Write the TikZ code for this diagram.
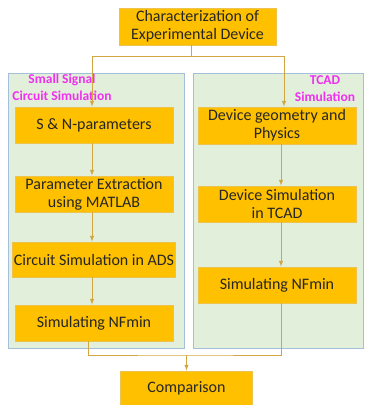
\documentclass[tikz,border=0pt]{standalone}
\usepackage{fontspec}
\setmainfont{Carlito}
\usepackage{tikz}
\usetikzlibrary{calc}

\definecolor{boxfill}{HTML}{FFC000}
\definecolor{boxline}{HTML}{EDC24E}
\definecolor{panelfill}{HTML}{E2EFDA}
\definecolor{panelline}{HTML}{A3BFD9}
\definecolor{connline}{HTML}{D2A640}
\definecolor{txt}{HTML}{262626}
\definecolor{tagcol}{HTML}{F030F0}

\tikzset{
  blk/.style={draw=boxline,fill=boxfill,line width=0.8pt,minimum width=158pt,
    minimum height=36pt,align=center,text=txt,inner sep=1pt,
    font=\fontsize{16}{18}\selectfont},
  panel/.style={draw=panelline,fill=panelfill,line width=0.8pt,inner sep=0pt},
  tag/.style={text=tagcol,align=center,font=\bfseries\fontsize{13.5}{17}\selectfont},
  conn/.style={draw=connline,line width=1pt}
}

\begin{document}
\begin{tikzpicture}[>=latex,x=1pt,y=-1pt]
        \useasboundingbox (0,0) rectangle (365,405);
        % panels
        \node[panel,minimum width=176pt,minimum height=275pt] (lpanel) at (96,210.5){};
        \node[panel,minimum width=170pt,minimum height=275pt] (rpanel) at (278,210.5){};
        \node[tag] (ltag) at (62,87){Small Signal\\Circuit Simulation};
        \node[tag] (rtag) at (325,88.5){TCAD\\Simulation};
        % boxes
        \node[blk,minimum width=157pt,minimum height=37pt] (top) at (197.5,26.5){Characterization of\\Experimental Device};
        \node[blk] (sn) at (94,125){S \& N-parameters};
        \node[blk] (pe) at (94,194){Parameter Extraction\\using MATLAB};
        \node[blk,minimum height=35pt] (ads) at (94,259.5){Circuit Simulation in ADS};
        \node[blk] (nfl) at (94,323){Simulating NFmin};
        \node[blk,minimum height=37pt] (dg) at (277,125.5){Device geometry and\\Physics};
        \node[blk] (ds) at (277,204){Device Simulation\\in TCAD};
        \node[blk] (nfr) at (277,285){Simulating NFmin};
        \node[blk,minimum width=132pt,minimum height=34pt] (cmp) at (186.5,388){Comparison};
        % connectors
        \draw[conn] ([xshift=-6.5pt]top.south) -- ++(0,11) coordinate (split);
        \draw[conn,->] (split) -| ([xshift=-2pt]sn.north);
        \draw[conn,->] (split) -| ([xshift=7pt]dg.north);
        \draw[conn,->] ([xshift=-2pt]sn.south) -- ([xshift=-2pt]pe.north);
        \draw[conn,->] ([xshift=-2pt]pe.south) -- ([xshift=-2pt]ads.north);
        \draw[conn,->] ([xshift=-2pt]ads.south) -- ([xshift=-2pt]nfl.north);
        \draw[conn,->] ([xshift=4pt]dg.south) -- ([xshift=4pt]ds.north);
        \draw[conn,->] ([xshift=4pt]ds.south) -- ([xshift=4pt]nfr.north);
        \coordinate (join) at (186.5,355);
        \draw[conn] ([xshift=-6pt]nfl.south) |- (join) -| ([xshift=4pt]nfr.south);
        \draw[conn,->] (join) -- (cmp.north);
\end{tikzpicture}
\end{document}
